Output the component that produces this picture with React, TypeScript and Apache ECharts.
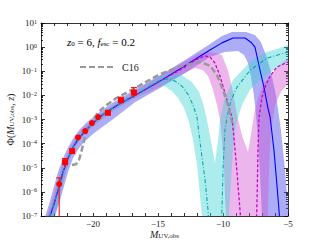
import React, { useEffect, useRef } from "react";
import * as echarts from "echarts";

// ---- axis ticks / labels ----
const xLabelValues = [-20, -15, -10, -5];
const xTickValues = [-24, -23, -22, -21, -20, -19, -18, -17, -16, -15, -14, -13, -12, -11, -10, -9, -8, -7, -6, -5];
const yDecadeExponents = [-7, -6, -5, -4, -3, -2, -1, 0, 1];
const yMinorMultipliers = [2, 3, 4, 5, 6, 7, 8, 9];

// ---- model curves [M_UV, Phi] ----
const blueLine = [
  [-23.45, 4e-8], [-23.31, 1.0e-7], [-23.0, 3.1e-7], [-22.69, 1.2e-6], [-22.31, 6.6e-6], [-21.92, 2.5e-5],
  [-21.54, 7.1e-5], [-21.15, 1.5e-4], [-20.62, 3.3e-4], [-20.08, 6.5e-4], [-19.46, 1.3e-3], [-18.69, 2.5e-3],
  [-17.85, 4.8e-3], [-16.77, 1.0e-2], [-14.85, 3.9e-2], [-12.92, 0.17], [-11.0, 0.76], [-10.08, 1.5],
  [-9.23, 2.4], [-8.31, 2.4], [-7.85, 1.6], [-7.54, 1.0], [-7.15, 0.11], [-6.85, 2.2e-2], [-6.54, 2.9e-3],
  [-6.38, 1.3e-3], [-6.08, 5.4e-5], [-5.85, 1.9e-6], [-5.69, 1.7e-7], [-5.62, 4.2e-8],
];
const magentaLine = [
  [-23.45, 4e-8], [-23.31, 1.0e-7], [-23.0, 3.1e-7], [-22.69, 1.2e-6], [-22.31, 6.6e-6], [-21.92, 2.5e-5],
  [-21.54, 7.1e-5], [-21.15, 1.5e-4], [-20.62, 3.3e-4], [-20.08, 6.5e-4], [-19.46, 1.3e-3], [-18.69, 2.5e-3],
  [-17.85, 4.8e-3], [-16.77, 1.0e-2], [-14.85, 3.9e-2], [-12.92, 0.15], [-12.15, 0.29], [-11.38, 0.43],
  [-11.0, 0.39], [-10.62, 0.22], [-10.23, 6.3e-2], [-9.85, 1.26e-2], [-9.54, 3.2e-3], [-9.31, 1.26e-3],
  [-9.0, 2.1e-5], [-8.69, 1.7e-7], [-8.54, 1.6e-8], [-7.46, 1.6e-8], [-7.38, 4.6e-7], [-7.31, 5.4e-5],
  [-7.23, 1.26e-3], [-7.0, 8.5e-3], [-6.77, 2.2e-2], [-6.38, 6.3e-2], [-5.85, 0.15], [-5.0, 0.24],
];
const cyanLine = [
  [-23.45, 4e-8], [-23.31, 1.0e-7], [-23.0, 3.1e-7], [-22.69, 1.2e-6], [-22.31, 6.6e-6], [-21.92, 2.5e-5],
  [-21.54, 7.1e-5], [-21.15, 1.5e-4], [-20.62, 3.3e-4], [-20.08, 6.5e-4], [-19.46, 1.3e-3], [-18.69, 2.5e-3],
  [-17.85, 4.8e-3], [-16.77, 1.0e-2], [-15.62, 2.5e-2], [-14.85, 4.3e-2], [-14.23, 4.8e-2], [-13.69, 3.9e-2],
  [-13.15, 2.4e-2], [-12.69, 1.1e-2], [-12.31, 4.0e-3], [-12.0, 1.26e-3], [-11.69, 5.4e-5], [-11.38, 3.1e-6],
  [-11.15, 1.7e-7], [-11.08, 1.6e-8], [-10.15, 1.6e-8], [-10.08, 1.7e-7], [-10.0, 7.9e-6], [-9.85, 3.6e-4],
  [-9.69, 1.26e-3], [-9.38, 6.3e-3], [-8.92, 2.2e-2], [-7.92, 0.11], [-6.62, 0.35], [-5.0, 0.63],
];
const c16Line = [
  [-21.62, 1.3e-5], [-21.31, 1.4e-5], [-21.08, 2.1e-5], [-20.92, 4.1e-5], [-20.77, 8.7e-5], [-20.62, 1.9e-4],
  [-20.38, 4.0e-4], [-20.08, 8.5e-4], [-19.62, 1.9e-3], [-19.08, 3.6e-3], [-18.31, 7.1e-3], [-16.77, 2.0e-2],
  [-14.85, 7.6e-2], [-12.92, 0.18], [-11.77, 0.24], [-11.0, 0.17], [-10.46, 6.9e-2], [-10.0, 1.7e-2],
  [-9.62, 4.0e-3], [-9.38, 1.1e-3], [-9.23, 5.9e-4],
];

// ---- uncertainty bands: upper and lower edges ----
const blueUpper = [
  [-23.92, 1e-8], [-23.69, 9.8e-8], [-23.38, 3.1e-7], [-23.08, 1.2e-6], [-22.69, 6.6e-6], [-22.31, 2.5e-5],
  [-21.92, 7.1e-5], [-21.46, 1.9e-4], [-21.0, 4.0e-4], [-20.38, 8.5e-4], [-19.69, 1.7e-3], [-18.69, 4.3e-3],
  [-16.77, 1.8e-2], [-14.85, 6.9e-2], [-12.92, 0.29], [-11.0, 1.35], [-10.08, 2.9], [-9.31, 4.2], [-8.23, 4.2],
  [-7.54, 3.2], [-7.08, 1.6], [-6.69, 0.47], [-6.31, 9.3e-2], [-5.92, 1.0e-2], [-5.54, 3.6e-4], [-5.23, 7.9e-6],
  [-5.0, 2.8e-7], [-4.77, 1e-8],
];
const blueLower = [
  [-23.15, 1e-8], [-22.92, 9.8e-8], [-22.62, 3.1e-7], [-22.31, 1.2e-6], [-21.92, 6.6e-6], [-21.54, 2.5e-5],
  [-21.08, 6.5e-5], [-20.62, 1.26e-4], [-20.0, 2.5e-4], [-19.31, 4.8e-4], [-18.54, 9.5e-4], [-16.77, 5.2e-3],
  [-14.85, 2.0e-2], [-12.92, 8.5e-2], [-11.0, 0.39], [-9.85, 0.63], [-8.85, 0.69], [-8.38, 0.47], [-8.08, 0.22],
  [-7.85, 5.8e-2], [-7.62, 1.0e-2], [-7.46, 1.5e-3], [-7.31, 1.4e-4], [-7.15, 4.9e-6], [-7.0, 9.8e-8], [-6.92, 1e-8],
];
const pinkUpper = [
  [-23.69, 1e-8], [-23.54, 9.8e-8], [-23.23, 3.1e-7], [-22.92, 1.2e-6], [-22.54, 6.6e-6], [-22.15, 2.5e-5],
  [-21.77, 7.1e-5], [-21.31, 1.9e-4], [-20.77, 4.4e-4], [-20.15, 8.5e-4], [-19.46, 1.7e-3], [-18.69, 3.2e-3],
  [-16.77, 1.5e-2], [-14.85, 6.3e-2], [-12.92, 0.26], [-11.92, 0.52], [-11.15, 0.63], [-10.54, 0.57],
  [-10.08, 0.47], [-9.62, 0.11], [-9.23, 1.4e-2], [-8.92, 1.5e-3], [-8.54, 2.2e-4], [-8.08, 4.5e-5],
  [-7.85, 2.2e-4], [-7.62, 1.5e-3], [-7.31, 7.8e-3], [-6.85, 3.0e-2], [-6.23, 8.5e-2], [-5.62, 0.18],
  [-5.0, 0.35], [-4.69, 0.43],
];
const pinkLower = [
  [-23.08, 1e-8], [-23.0, 9.8e-8], [-22.69, 3.1e-7], [-22.46, 1.2e-6], [-22.08, 6.6e-6], [-21.77, 2.5e-5],
  [-21.38, 7.1e-5], [-20.92, 1.7e-4], [-20.38, 3.3e-4], [-19.77, 6.5e-4], [-18.69, 1.9e-3], [-16.77, 7.8e-3],
  [-14.85, 2.2e-2], [-12.92, 8.5e-2], [-12.15, 0.135], [-11.54, 0.11], [-11.15, 6.3e-2], [-10.77, 1.7e-2],
  [-10.46, 4.0e-3], [-10.23, 9.5e-4], [-10.08, 1.4e-4], [-9.92, 7.9e-6], [-9.85, 7.2e-7], [-9.77, 9.8e-8],
  [-9.69, 1e-8], [-6.54, 1e-8], [-6.54, 9.8e-8], [-6.46, 7.9e-6], [-6.31, 3.6e-4], [-6.0, 4.0e-3],
  [-5.54, 1.4e-2], [-5.0, 3.0e-2], [-4.69, 3.5e-2],
];
const cyanUpper = [
  [-23.62, 1e-8], [-23.46, 9.8e-8], [-23.15, 3.1e-7], [-22.85, 1.2e-6], [-22.46, 6.6e-6], [-22.08, 2.5e-5],
  [-21.69, 7.1e-5], [-21.23, 1.9e-4], [-20.69, 4.4e-4], [-20.08, 8.5e-4], [-19.46, 1.7e-3], [-18.69, 3.2e-3],
  [-16.77, 1.4e-2], [-15.62, 3.2e-2], [-14.85, 6.3e-2], [-14.08, 8.5e-2], [-13.15, 6.9e-2], [-12.38, 3.5e-2],
  [-11.85, 1.4e-2], [-11.54, 4.8e-3], [-11.31, 1.5e-3], [-11.08, 3.6e-4], [-10.85, 7.9e-5], [-10.62, 1.55e-5],
  [-10.38, 1.4e-4], [-10.23, 9.5e-4], [-9.92, 6.3e-3], [-9.23, 4.3e-2], [-7.92, 0.24], [-6.62, 0.63],
  [-5.0, 1.2], [-4.69, 1.35],
];
const cyanLower = [
  [-23.08, 1e-8], [-23.0, 9.8e-8], [-22.69, 3.1e-7], [-22.46, 1.2e-6], [-22.08, 6.6e-6], [-21.77, 2.5e-5],
  [-21.38, 7.1e-5], [-20.92, 1.7e-4], [-20.38, 3.3e-4], [-19.77, 6.5e-4], [-18.69, 1.9e-3], [-16.77, 7.8e-3],
  [-15.62, 1.66e-2], [-15.0, 2.7e-2], [-14.46, 2.4e-2], [-13.92, 1.5e-2], [-13.46, 7.8e-3], [-13.0, 3.0e-3],
  [-12.62, 7.8e-4], [-12.31, 1.4e-4], [-12.0, 1.3e-5], [-11.77, 7.2e-7], [-11.62, 9.8e-8], [-11.54, 1e-8],
  [-9.62, 1e-8], [-9.54, 9.8e-8], [-9.38, 3.1e-6], [-9.23, 5.4e-5], [-9.0, 5.9e-4], [-8.54, 4.0e-3],
  [-7.92, 1.7e-2], [-7.0, 5.2e-2], [-6.0, 0.12], [-5.0, 0.24], [-4.69, 0.26],
];

// ---- observations ----
const obsCircles = [[-22.6, 2.1e-6], [-21.15, 1.8e-4], [-20.6, 3.3e-4], [-20.08, 7.1e-4], [-19.6, 1.26e-3]];
const obsSquares = [[-22.15, 1.7e-5], [-21.6, 4.9e-5], [-18.85, 1.9e-3], [-17.85, 6.3e-3], [-16.85, 1.3e-2]];
const obsErrors = [[-22.6, 5e-8, 3.8e-6], [-22.15, 1.1e-5, 2.4e-5], [-17.85, 4.6e-3, 8.4e-3], [-16.85, 8e-3, 2.1e-2]];

const SERIF = "Liberation Serif";
const minus = (n: number) => (n < 0 ? "\u2212" + Math.abs(n) : String(n));

function bandSeries(upper: number[][], lower: number[][], color: string) {
  return {
    type: "custom",
    clip: true,
    z: 1,
    silent: true,
    data: [[-10, 1]],
    renderItem: (params: any, api: any) => {
      const pts = upper.map((p) => api.coord(p)).concat(lower.slice().reverse().map((p) => api.coord(p)));
      return { type: "polygon", shape: { points: pts }, style: { fill: color } };
    },
  };
}

export default function App() {
  const ref = useRef<HTMLDivElement>(null);
  useEffect(() => {
    document.body.style.margin = "0";
    const chart = echarts.init(ref.current!, null, { renderer: "svg" });
    const yMinor: number[] = [];
    yDecadeExponents.slice(0, -1).forEach((e) => yMinorMultipliers.forEach((m) => yMinor.push(e + Math.log10(m))));
    const subRich = {
      r: { fontSize: 10, fontFamily: SERIF, color: "#222", lineHeight: 10, padding: [0, 0, 3, 0], verticalAlign: "top" },
      i: { fontSize: 10, fontFamily: SERIF, fontStyle: "italic", color: "#222", lineHeight: 10, padding: [0, 0, 3, 0], verticalAlign: "top" },
      sub: { fontSize: 7, fontFamily: SERIF, color: "#222", lineHeight: 7, verticalAlign: "bottom" },
    };
    const xNameRich = {
      i: { ...subRich.i, padding: [0, 0, 2, 0] },
      sub: subRich.sub,
    };
    const tickCommon = { inside: true, lineStyle: { color: "#000", width: 0.8 } };
    const xLine = { onZero: false, lineStyle: { color: "#000", width: 0.8 } };
    chart.setOption({
      animation: false,
      backgroundColor: "#fff",
      grid: { left: 41, top: 23, width: 247, height: 193, containLabel: false, outerBoundsMode: "none" },
      legend: {
        data: ["C16"],
        left: 74,
        top: 57,
        itemWidth: 33,
        itemHeight: 12,
        itemStyle: { opacity: 0 },
        textStyle: { fontFamily: SERIF, fontSize: 10, color: "#222", padding: [0, 0, 0, 4] },
      },
      graphic: [
        {
          type: "text",
          left: 67,
          top: 36,
          z: 20,
          style: {
            text: "{i|z}{sub|0}{r| = 6, }{i|f}{sub|esc}{r| = 0.2}",
            rich: {
              r: { ...subRich.r, fontSize: 11, lineHeight: 11 },
              i: { ...subRich.i, fontSize: 11, lineHeight: 11 },
              sub: subRich.sub,
            },
          },
        },
      ],
      xAxis: [
        {
          type: "value",
          position: "bottom",
          min: -24,
          max: -5,
          splitLine: { show: false },
          axisLine: xLine,
          axisTick: { ...tickCommon, length: 3, customValues: xTickValues },
          axisLabel: {
            customValues: xLabelValues,
            formatter: (v: number) => minus(v),
            fontFamily: SERIF,
            fontSize: 9,
            color: "#222",
            margin: 3,
          },
          name: "{i|M}{sub|UV,obs}",
          nameLocation: "middle",
          nameGap: 13,
          nameMoveOverlap: false,
          nameTextStyle: { rich: xNameRich },
        },
        {
          type: "value",
          position: "top",
          min: -24,
          max: -5,
          splitLine: { show: false },
          axisLine: xLine,
          axisTick: { ...tickCommon, length: 3, customValues: xTickValues },
          axisLabel: { show: false },
        },
      ],
      yAxis: [
        {
          type: "log",
          position: "left",
          min: 1e-7,
          max: 10,
          splitLine: { show: false },
          axisLine: { onZero: false, lineStyle: { color: "#000", width: 0.8 } },
          axisTick: { ...tickCommon, length: 4 },
          axisLabel: {
            margin: 4,
            formatter: (v: number) => {
              const e = Math.round(Math.log10(v));
              return "{b|10}{s|" + minus(e) + "}";
            },
            rich: {
              b: { fontSize: 9, fontFamily: SERIF, color: "#222", lineHeight: 9, padding: [4, 0, 0, 0], verticalAlign: "bottom" },
              s: { fontSize: 6, fontFamily: SERIF, color: "#222", lineHeight: 6, verticalAlign: "top" },
            },
          },
          name: "{r|\u03A6(}{i|M}{sub|UV,obs}{r|, }{i|z}{r|)}",
          nameLocation: "middle",
          nameGap: 26,
          nameMoveOverlap: false,
          nameTextStyle: { rich: subRich },
        },
        {
          type: "log",
          position: "right",
          min: 1e-7,
          max: 10,
          splitLine: { show: false },
          axisLine: { onZero: false, lineStyle: { color: "#000", width: 0.8 } },
          axisTick: { ...tickCommon, length: 4 },
          axisLabel: { show: false },
        },
        {
          type: "value",
          position: "left",
          min: -7,
          max: 1,
          splitLine: { show: false },
          axisLine: { show: false, onZero: false },
          axisTick: { ...tickCommon, length: 2, customValues: yMinor },
          axisLabel: { show: false },
        },
        {
          type: "value",
          position: "right",
          min: -7,
          max: 1,
          splitLine: { show: false },
          axisLine: { show: false, onZero: false },
          axisTick: { ...tickCommon, length: 2, customValues: yMinor },
          axisLabel: { show: false },
        },
      ],
      series: [
        bandSeries(blueUpper, blueLower, "rgba(60,60,235,0.42)"),
        bandSeries(pinkUpper, pinkLower, "rgba(210,80,210,0.42)"),
        bandSeries(cyanUpper, cyanLower, "rgba(60,210,210,0.42)"),
        {
          type: "line",
          name: "model blue",
          data: blueLine,
          symbol: "none",
          z: 3,
          lineStyle: { color: "#0000ff", width: 1.1 },
        },
        {
          type: "line",
          name: "model magenta",
          data: magentaLine,
          symbol: "none",
          z: 3,
          lineStyle: { color: "#cc00cc", width: 1.3, type: [3, 2] },
        },
        {
          type: "line",
          name: "model cyan",
          data: cyanLine,
          symbol: "none",
          z: 3,
          lineStyle: { color: "#00aaaa", width: 1.1, type: [4, 2, 1, 2] },
        },
        {
          type: "line",
          name: "C16",
          data: c16Line,
          symbol: "none",
          z: 4,
          itemStyle: { color: "#999999" },
          lineStyle: { color: "#999999", width: 2.5, type: [6, 3] },
        },
        {
          type: "custom",
          clip: true,
          z: 5,
          data: obsErrors,
          encode: { x: 0, y: [1, 2] },
          renderItem: (params: any, api: any) => {
            const x = api.value(0);
            const p1 = api.coord([x, api.value(1)]);
            const p2 = api.coord([x, api.value(2)]);
            const st = { stroke: "#ff0000", lineWidth: 1 };
            return {
              type: "group",
              children: [
                { type: "line", shape: { x1: p1[0], y1: p1[1], x2: p2[0], y2: p2[1] }, style: st },
                { type: "line", shape: { x1: p2[0] - 3, y1: p2[1], x2: p2[0] + 3, y2: p2[1] }, style: st },
              ],
            };
          },
        },
        {
          type: "scatter",
          name: "obs circles",
          data: obsCircles,
          symbol: "circle",
          symbolSize: 6,
          z: 6,
          itemStyle: { color: "#ff0000", opacity: 1 },
        },
        {
          type: "scatter",
          name: "obs squares",
          data: obsSquares,
          symbol: "rect",
          symbolSize: 6,
          z: 6,
          itemStyle: { color: "#ff0000", opacity: 1 },
        },
      ],
    });
    return () => chart.dispose();
  }, []);
  return <div ref={ref} style={{ width: 320, height: 240 }} />;
}
